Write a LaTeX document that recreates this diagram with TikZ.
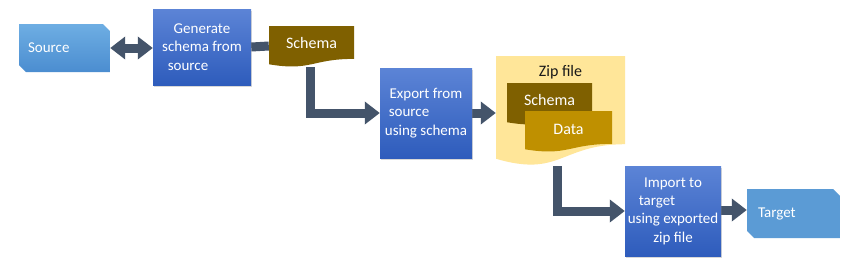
\documentclass[tikz,border=0pt]{standalone}
\usepackage{fontspec}
\setmainfont{Carlito}
\usetikzlibrary{arrows.meta,calc,shadows,backgrounds}
\definecolor{connc}{HTML}{44546A}
\definecolor{boxtop}{HTML}{5C84D6}
\definecolor{boxbot}{HTML}{2E5CBC}
\definecolor{srctop}{HTML}{6EAEE3}
\definecolor{srcbot}{HTML}{4B8DD0}
\definecolor{tgtc}{HTML}{5B9BD5}
\definecolor{schc}{HTML}{7F6000}
\definecolor{datac}{HTML}{BF9000}
\definecolor{zipc}{HTML}{FFE699}
\tikzset{
  bigtip/.tip={Triangle[length=15pt,width=22pt]},
  conn/.style={draw=connc, line width=9pt},
  boxfont/.style={font=\fontsize{15}{18.3}\selectfont},
  docfont/.style={font=\fontsize{16}{19}\selectfont},
  procbox/.style={rectangle, inner sep=0pt, top color=boxtop, bottom color=boxbot,
    text=white, align=center, boxfont,
    drop shadow={shadow xshift=1.2pt, shadow yshift=-1.5pt, opacity=0.3}},
  docshape/.style={path picture={\fill[#1] let \p1=(path picture bounding box.south west),
      \p2=(path picture bounding box.north east) in
      (\x1,\y2) -- (\x2,\y2) -- (\x2,{\y2-0.802*(\y2-\y1)})
      .. controls ({0.5*(\x1+\x2)},{\y2-0.802*(\y2-\y1)}) and ({0.5*(\x1+\x2)},{\y2-1.107*(\y2-\y1)})
      .. (\x1,{\y2-0.934*(\y2-\y1)}) -- cycle;}},
  docnode/.style={rectangle, inner sep=0pt, docshape=#1, text=white, docfont},
  snipbox/.style 2 args={rectangle, inner sep=0pt, text=white, boxfont, align=left,
    path picture={\shade[top color=#1,bottom color=#2] let \p1=(path picture bounding box.south west),
      \p2=(path picture bounding box.north east) in
      (\x1,\y2) -- ({\x2-7pt},\y2) -- (\x2,{\y2-7pt}) -- (\x2,\y1) -- ({\x1+7pt},\y1) -- (\x1,{\y1+7pt}) -- cycle;}}
}
\begin{document}
\begin{tikzpicture}[x=1pt,y=-1pt]
\useasboundingbox (0,0) rectangle (850,271);

\node[snipbox={srctop}{srcbot}, inner xsep=9pt, text width=73pt, minimum height=48pt] (src) at (64.5,48) {Source};
\node[procbox, minimum width=98pt, minimum height=76pt] (gen) at (202,47) {Generate\\schema from\\source\rule{28pt}{0pt}};
\node[docnode=schc, minimum width=85pt, text height=22.5pt, text depth=18.5pt] (sch) at (311.5,46.5) {Schema};
\node[procbox, minimum width=92pt, minimum height=90pt] (exp) at (426,113) {Export from\\source\rule{34pt}{0pt}\\using schema};
\node[docnode=zipc, text=black!90, minimum width=129pt, text height=20pt, text depth=90pt] (zip) at (560.5,111) {Zip file};
\node[docnode=schc, minimum width=85pt, text height=22.5pt, text depth=19.5pt] (zsch) at (549.5,104) {Schema};
\node[docnode=datac, minimum width=87pt, text height=23.5pt, text depth=17.5pt] (zdat) at (568.5,131.5) {Data};
\node[procbox, minimum width=96pt, minimum height=90pt] (imp) at (673,211) {Import to\\target\rule{32pt}{0pt}\\using exported\\zip file};
\node[snipbox={tgtc}{tgtc}, inner xsep=11pt, text width=71pt, minimum height=49pt] (tgt) at (793.5,213.5) {Target};

\begin{pgfonlayer}{background}
\fill[white] (0,0) rectangle (850,271);
\draw[conn, bigtip-bigtip] (src.east) -- (src.east -| gen.west);
\draw[conn] (gen.east) -- ([yshift=1pt]gen.east -| sch.west);
\draw[conn, -bigtip] ([xshift=-1.5pt]sch.south) |- (exp.west);
\draw[conn, -bigtip] (exp.east) -- (exp.east -| zip.west);
\draw[conn, -bigtip] ([xshift=-3.5pt]zip.south) |- (imp.west);
\draw[conn, -bigtip] ([yshift=1pt]imp.east) -- ([yshift=1pt]imp.east -| tgt.west);
\end{pgfonlayer}
\end{tikzpicture}
\end{document}
